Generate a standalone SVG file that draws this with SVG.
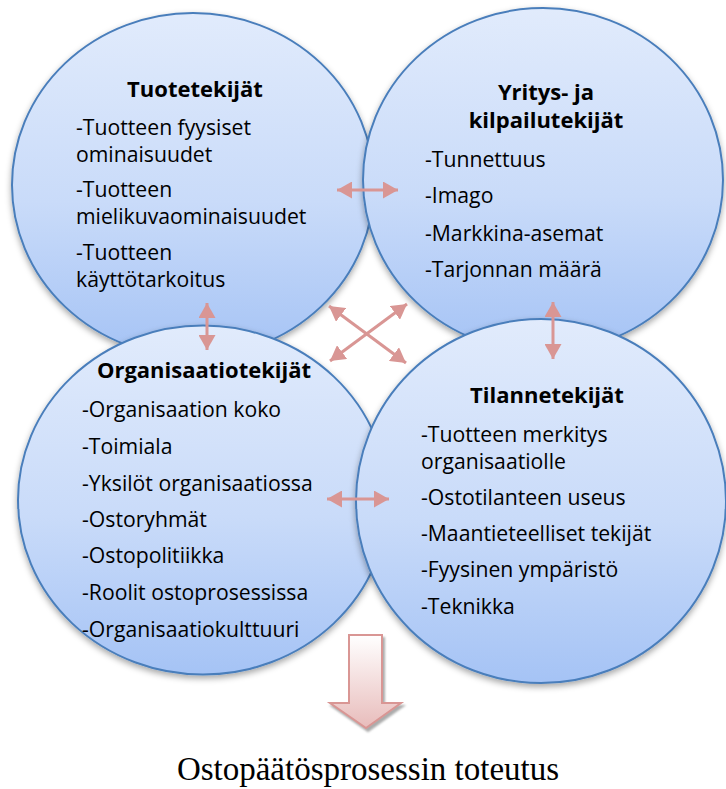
<svg xmlns="http://www.w3.org/2000/svg" width="726" height="789" viewBox="0 0 726 789">
<defs>
<linearGradient id="cg" x1="0" y1="0" x2="0" y2="1">
<stop offset="0" stop-color="#e1ebfc"/>
<stop offset="0.55" stop-color="#c9dbf9"/>
<stop offset="1" stop-color="#a5c3f5"/>
</linearGradient>
<linearGradient id="ag" x1="0" y1="0" x2="0" y2="1">
<stop offset="0" stop-color="#ffffff"/>
<stop offset="1" stop-color="#e8bcbb"/>
</linearGradient>
<filter id="sh" x="-10%" y="-10%" width="120%" height="125%">
<feDropShadow dx="0" dy="3" stdDeviation="3" flood-color="#000" flood-opacity="0.35"/>
</filter>
<filter id="ash" x="-20%" y="-10%" width="140%" height="130%">
<feDropShadow dx="2" dy="3" stdDeviation="0.8" flood-color="#888" flood-opacity="0.7"/>
</filter>
<marker id="ah" viewBox="0 0 15 17" refX="15" refY="8.5" markerWidth="15" markerHeight="17" markerUnits="userSpaceOnUse" orient="auto-start-reverse">
<path d="M0,0 L15,8.5 L0,17 z" fill="#d99694"/>
</marker>
</defs>
<style>
.c{fill:url(#cg);stroke:#4a7ebb;stroke-width:2;filter:url(#sh)}
.t{font-family:"Open Sans",Lato,"Liberation Sans",sans-serif;font-size:21.2px;fill:#000}
.h{font-family:"Open Sans",Lato,"Liberation Sans",sans-serif;font-size:22px;font-weight:bold;fill:#000;text-anchor:middle}
.a{stroke:#d99694;stroke-width:3;fill:none;marker-start:url(#ah);marker-end:url(#ah)}
.f{font-family:"Liberation Serif","Times New Roman",serif;font-size:33px;fill:#000;text-anchor:middle}
</style>
<rect width="726" height="789" fill="#fff"/>
<g id="tuotetekijat">
<ellipse class="c" cx="193" cy="185" rx="181" ry="172"/>
<text class="h" x="195" y="97">Tuotetekijät</text>
<text class="t" x="76" y="135">-Tuotteen fyysiset</text>
<text class="t" x="76" y="162">ominaisuudet</text>
<text class="t" x="76" y="197">-Tuotteen</text>
<text class="t" x="76" y="224">mielikuvaominaisuudet</text>
<text class="t" x="76" y="260">-Tuotteen</text>
<text class="t" x="76" y="287">käyttötarkoitus</text>
</g>
<g id="yritystekijat">
<ellipse class="c" cx="543" cy="180" rx="180" ry="172"/>
<text class="h" x="546" y="100">Yritys- ja</text>
<text class="h" x="546" y="128">kilpailutekijät</text>
<text class="t" x="425" y="167">-Tunnettuus</text>
<text class="t" x="425" y="203">-Imago</text>
<text class="t" x="425" y="241">-Markkina-asemat</text>
<text class="t" x="425" y="277">-Tarjonnan määrä</text>
</g>
<g id="organisaatiotekijat">
<ellipse class="c" cx="203" cy="500" rx="185" ry="174.5"/>
<text class="h" x="204" y="378">Organisaatiotekijät</text>
<text class="t" x="82" y="417">-Organisaation koko</text>
<text class="t" x="82" y="454">-Toimiala</text>
<text class="t" x="82" y="491">-Yksilöt organisaatiossa</text>
<text class="t" x="82" y="527">-Ostoryhmät</text>
<text class="t" x="82" y="563">-Ostopolitiikka</text>
<text class="t" x="82" y="600">-Roolit ostoprosessissa</text>
<text class="t" x="82" y="637">-Organisaatiokulttuuri</text>
</g>
<g id="tilannetekijat">
<ellipse class="c" cx="541" cy="501" rx="185" ry="182"/>
<text class="h" x="547" y="403">Tilannetekijät</text>
<text class="t" x="421" y="442">-Tuotteen merkitys</text>
<text class="t" x="421" y="469">organisaatiolle</text>
<text class="t" x="421" y="505">-Ostotilanteen useus</text>
<text class="t" x="421" y="541">-Maantieteelliset tekijät</text>
<text class="t" x="421" y="577">-Fyysinen ympäristö</text>
<text class="t" x="421" y="614">-Teknikka</text>
</g>
<g id="connectors">
<line class="a" x1="337" y1="190" x2="398" y2="190"/>
<line class="a" x1="207" y1="303" x2="207" y2="350"/>
<line class="a" x1="553" y1="302" x2="553" y2="359"/>
<line class="a" x1="327" y1="499" x2="389" y2="499"/>
<line class="a" x1="329" y1="306" x2="406" y2="363"/>
<line class="a" x1="330" y1="361" x2="407" y2="304"/>
</g>
<g id="tulos">
<path d="M349,635 H382 V703 H401 L366,728 L330,703 H349 Z" fill="url(#ag)" stroke="#d99694" stroke-width="2" filter="url(#ash)"/>
<text class="f" x="368" y="780">Ostopäätösprosessin toteutus</text>
</g>
</svg>
